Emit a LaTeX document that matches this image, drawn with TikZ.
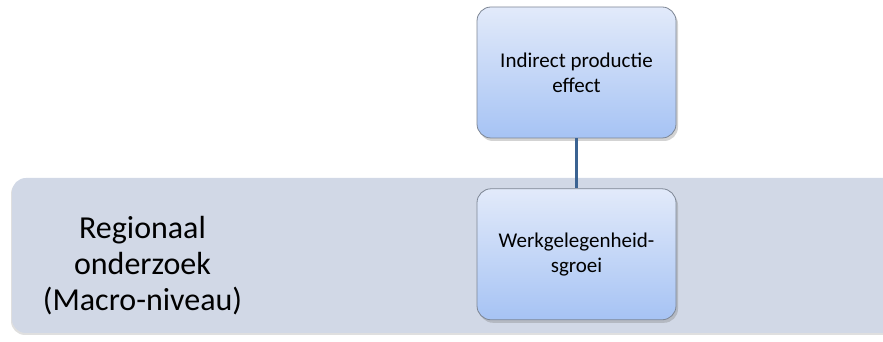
\documentclass[tikz,border=0pt]{standalone}
\usepackage{fontspec}
\setmainfont{Carlito}
\usepackage{tikz}
\usetikzlibrary{positioning,shadows}

\definecolor{bandfill}{HTML}{D1D8E6}
\definecolor{boxtop}{HTML}{E2EAFA}
\definecolor{boxbot}{HTML}{A6C3F4}
\definecolor{boxline}{HTML}{7D8694}
\definecolor{connline}{HTML}{3B6392}

\tikzset{
  band/.style={fill=bandfill,rounded corners=14pt,draw=none,
    drop shadow={shadow xshift=-1pt,shadow yshift=-2pt,opacity=.25}},
  effectbox/.style={draw=boxline,line width=0.8pt,rounded corners=14pt,
    top color=boxtop,bottom color=boxbot,align=center,
    minimum width=199pt,minimum height=131pt,inner sep=4pt,
    font=\fontsize{21}{25}\selectfont,
    drop shadow={shadow xshift=2pt,shadow yshift=-3pt,opacity=.35}},
  conn/.style={draw=connline,line width=3.5pt}
}

\begin{document}
\begin{tikzpicture}[x=1pt,y=1pt]
	\useasboundingbox (0,0) rectangle (883,342);
	\node[band,minimum width=900pt,minimum height=155pt] (macro) at (462,86.5) {};
	\node[align=center,font=\fontsize{32}{36}\selectfont] (regio) at (142.5,76) {Regionaal\\onderzoek\\(Macro-niveau)};
	\node[effectbox] (ind) at (576.5,269.5) {Indirect productie\\effect};
	\node[effectbox,below=50pt of ind] (werk) {Werkgelegenheid-\\sgroei};
	\draw[conn] (ind) -- (werk);
\end{tikzpicture}
\end{document}
